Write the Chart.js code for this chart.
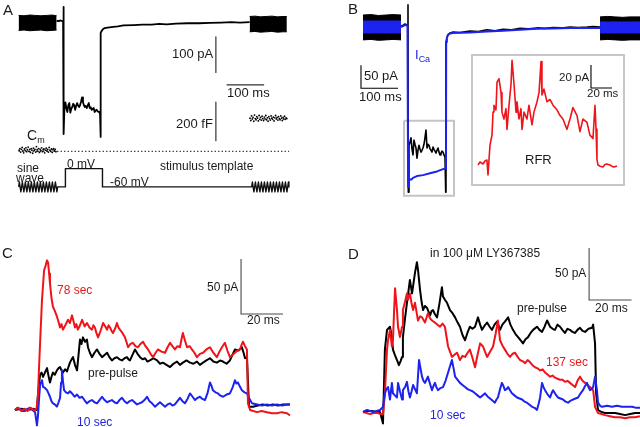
<!DOCTYPE html>
<html>
<head>
<meta charset="utf-8">
<script src="https://cdn.jsdelivr.net/npm/chart.js@4.4.0/dist/chart.umd.min.js"></script>
<style>
  html, body { margin: 0; padding: 0; background: #fff; }
  #fig { position: relative; width: 640px; height: 427px; overflow: hidden;
         font-family: "Liberation Sans", Arial, Helvetica, sans-serif; color: #1a1a1a; }
  .pane { position: absolute; }
  .inset { position: absolute; left: 471px; top: 54px; width: 154px; height: 132px;
           border: 2px solid #c6c6c6; box-sizing: border-box; background: #fff; }
  .lbl { position: absolute; white-space: nowrap; line-height: 1; font-size: 12px; }
  .big { font-size: 15px; }
  .s13 { font-size: 13px; }
  .red { color: #e8191c; }
  .blue { color: #2222d8; }
  .sub { font-size: 9px; position: relative; top: 3px; }
</style>
</head>
<body>
<div id="fig">
  <div class="pane" style="left:0;top:0"><canvas id="chartA" width="320" height="215"></canvas></div>
  <div class="pane" style="left:320px;top:0"><canvas id="chartB" width="320" height="215"></canvas></div>
  <div class="inset"><canvas id="chartRFR" width="150" height="128"></canvas></div>
  <div class="pane" style="left:0;top:230px"><canvas id="chartC" width="320" height="197"></canvas></div>
  <div class="pane" style="left:320px;top:230px"><canvas id="chartD" width="320" height="197"></canvas></div>

  <!-- A -->
  <div class="lbl big" style="left:3px;top:2px">A</div>
  <div class="lbl s13" style="left:172px;top:47px">100 pA</div>
  <div class="lbl s13" style="left:227px;top:86px">100 ms</div>
  <div class="lbl s13" style="left:176px;top:117px">200 fF</div>
  <div class="lbl" style="left:27px;top:128px;font-size:14px">C<span class="sub">m</span></div>
  <div class="lbl" style="left:17px;top:162px">sine</div>
  <div class="lbl" style="left:16px;top:172px">wave</div>
  <div class="lbl" style="left:67px;top:158px">0 mV</div>
  <div class="lbl" style="left:160px;top:160px">stimulus template</div>
  <div class="lbl" style="left:110px;top:176px">-60 mV</div>

  <!-- B -->
  <div class="lbl big" style="left:348px;top:1px">B</div>
  <div class="lbl s13" style="left:364px;top:69px">50 pA</div>
  <div class="lbl s13" style="left:359px;top:90px">100 ms</div>
  <div class="lbl blue" style="left:415px;top:48px;font-size:13px">I<span class="sub">Ca</span></div>
  <div class="lbl" style="left:559px;top:72px;font-size:11.5px">20 pA</div>
  <div class="lbl" style="left:587px;top:88px;font-size:11.5px">20 ms</div>
  <div class="lbl s13" style="left:525px;top:153px">RFR</div>

  <!-- C -->
  <div class="lbl big" style="left:2px;top:245px">C</div>
  <div class="lbl red" style="left:57px;top:284px">78 sec</div>
  <div class="lbl" style="left:207px;top:281px">50 pA</div>
  <div class="lbl" style="left:247px;top:314px">20 ms</div>
  <div class="lbl" style="left:88px;top:367px">pre-pulse</div>
  <div class="lbl blue" style="left:77px;top:416px">10 sec</div>

  <!-- D -->
  <div class="lbl big" style="left:348px;top:246px">D</div>
  <div class="lbl" style="left:430px;top:247px">in 100 μM LY367385</div>
  <div class="lbl" style="left:555px;top:267px">50 pA</div>
  <div class="lbl" style="left:595px;top:302px">20 ms</div>
  <div class="lbl" style="left:517px;top:302px">pre-pulse</div>
  <div class="lbl red" style="left:546px;top:356px">137 sec</div>
  <div class="lbl blue" style="left:430px;top:409px">10 sec</div>
</div>

<script>
// ── Data: [time (ms), value] ──────────────────────────────────
// A: whole-cell current (pA), Cm (fF), stimulus (mV)
const A_CURRENT = [[-18.2,5],[-15,7],[-12,6],[-9,8],[-6,7],[-3,6],[-1,5],[0,46],[0.8,-311],[2.6,-235],[5.2,-222],
  [7.8,-240],[10.4,-249],[13,-230],[15.6,-224],[18.2,-251],[20.8,-240],[23.4,-235],[26,-226],[28.6,-230],[31.2,-243],
  [33.8,-232],[36.4,-224],[39,-231],[41.6,-235],[44.2,-230],[46.8,-220],[49.4,-208],[52,-222],[54.5,-230],[57.1,-235],
  [59.7,-232],[62.3,-238],[64.9,-230],[67.5,-224],[70.1,-238],[72.7,-236],[75.3,-243],[77.9,-240],[80.5,-238],
  [83.1,-249],[85.7,-245],[88.3,-243],[90.9,-247],[93.5,-249],[96.1,-249],[97.4,-255],[98.7,-319],[99.5,-27],
  [101.3,-22],[105,-17],[109,-14],[118,-12],[127,-11],[145,-9],[160,-6],[187,-5],[210,-4],[235,-4],[255,-2],
  [275,-3],[300,-1],[330,0],[361,0],[390,1],[420,2],[447,3],[470,2],[496,3]];
const A_BLOCK_L_HI = [[-119.5,22],[-105,21],[-90,23],[-75,22],[-60,21],[-45,22],[-30,23],[-18.2,21]];
const A_BLOCK_L_LO = [[-119.5,-20],[-105,-19],[-90,-21],[-75,-20],[-60,-19],[-45,-21],[-30,-20],[-18.2,-19]];
const A_BLOCK_R_HI = [[496,19],[510,20],[525,18],[540,19],[555,20],[570,18],[585,19],[595,19]];
const A_BLOCK_R_LO = [[496,-24],[510,-23],[525,-25],[540,-24],[555,-23],[570,-25],[585,-24],[595,-24]];
const A_CM_LEFT = [[-118,6],[-116,14],[-114,-4],[-112,10],[-110,20],[-108,2],[-106,-8],[-104,12],[-102,4],[-100,18],
  [-98,-2],[-96,8],[-94,22],[-92,0],[-90,10],[-88,-6],[-86,14],[-84,6],[-82,-10],[-80,16],[-78,4],[-76,10],[-74,-4],
  [-72,24],[-70,8],[-68,0],[-66,14],[-64,-6],[-62,10],[-60,4],[-58,18],[-56,-2],[-54,8],[-52,12],[-50,-8],[-48,6],
  [-46,16],[-44,2],[-42,10],[-40,-4],[-38,20],[-36,6],[-34,0],[-32,12],[-30,-6],[-28,8],[-26,14],[-24,2],[-22,10],[-20,-2]];
const A_CM_RIGHT = [[497,172],[499,160],[501,184],[503,168],[505,176],[507,156],[509,188],[511,170],[513,164],[515,180],
  [517,172],[519,158],[521,186],[523,166],[525,176],[527,162],[529,182],[531,170],[533,160],[535,178],[537,168],
  [539,186],[541,164],[543,174],[545,156],[547,180],[549,170],[551,162],[553,184],[555,172],[557,166],[559,178],
  [561,158],[563,174],[565,186],[567,168],[569,176],[571,162],[573,180],[575,170],[577,164],[579,184],[581,172],
  [583,160],[585,176],[587,168],[589,182],[591,166],[593,174],[595,170]];
const A_CM_REF = [[-119.5,0],[601,0]];
const A_STIM = [[-119.5,-60],[-117.5,-44],[-113.5,-76],[-109.5,-44],[-105.5,-76],[-101.5,-44],[-97.5,-76],[-93.5,-44],
  [-89.5,-76],[-85.5,-44],[-81.5,-76],[-77.5,-44],[-73.5,-76],[-69.5,-44],[-65.5,-76],[-61.5,-44],[-57.5,-76],
  [-53.5,-44],[-49.5,-76],[-45.5,-44],[-41.5,-76],[-37.5,-44],[-33.5,-76],[-29.5,-44],[-25.5,-76],[-21.5,-44],
  [-17.5,-76],[-15.6,-60],[5.2,-60],[5.2,0],[103.9,0],[103.9,-60],[501.3,-60],[503.3,-44],[507.3,-76],[511.3,-44],
  [515.3,-76],[519.3,-44],[523.3,-76],[527.3,-44],[531.3,-76],[535.3,-44],[539.3,-76],[543.3,-44],[547.3,-76],
  [551.3,-44],[555.3,-76],[559.3,-44],[563.3,-76],[567.3,-44],[571.3,-76],[575.3,-44],[579.3,-76],[583.3,-44],
  [587.3,-76],[591.3,-44],[595.3,-76],[599.3,-44],[600.5,-60]];
const A_BAR_PA = [[406,-38],[406,-138]];
const A_BAR_MS = [[434.5,-173],[534.5,-173]];
const A_BAR_FF = [[406,255],[406,55]];

// B: black = total current, blue = I_Ca (pA)
const B_BLACK = [[-18.9,2],[-15,3],[-11,5],[-8.1,6.5],[-4,5],[-1.4,4],[0,48],[0.8,-359],[2.7,-257],[5.4,-250],
  [8.1,-241],[10.8,-265],[13.5,-278],[16.2,-246],[18.9,-255],[21.6,-263],[24.3,-285],[27,-268],[29.7,-257],
  [32.4,-265],[35.1,-272],[37.8,-268],[40.5,-263],[43.2,-255],[45.9,-241],[48.6,-224],[51.4,-263],[54.1,-255],
  [56.8,-257],[59.5,-265],[62.2,-268],[64.9,-272],[67.6,-261],[70.3,-266],[73,-270],[75.7,-274],[78.4,-268],
  [81.1,-263],[83.8,-272],[86.5,-278],[89.2,-274],[91.9,-270],[94.6,-272],[97.3,-278],[100,-283],[101.9,-359],
  [102.7,-33],[105,-24],[108,-17],[114,-13],[121.6,-11],[140,-12],[167.6,-9],[190,-10],[213.5,-6],[235,-8],
  [256.8,-5],[280,-6],[302.7,-3],[325,-4],[348.6,-2],[370,-3],[391.9,-1],[415,-2],[437.8,0],[460,-1],[483.8,0],
  [500,1],[519,0]];
const B_BLUE = [[-18.9,0],[-8.1,4],[-1.4,4],[0,4],[0.3,-348],[0.8,-322],[2.7,-328],[5.4,-332],[10,-331],[13.5,-328],
  [24.3,-324],[40.5,-322],[59.5,-318],[78.4,-314],[94.6,-309],[102.7,-307],[103.2,-33],[105,-24],[108,-17],[114,-14],
  [121.6,-13],[167.6,-12],[213.5,-10],[256.8,-8],[302.7,-6],[348.6,-4],[391.9,-3],[437.8,-2],[483.8,-2],[519,-2]];
const B_BLOCK_L_HI = [[-121.6,26],[-100,27],[-80,25],[-60,26],[-40,27],[-18.9,26]];
const B_BLOCK_L_LO = [[-121.6,-28],[-100,-27],[-80,-29],[-60,-28],[-40,-27],[-18.9,-28]];
const B_BLUE_L_HI = [[-121.6,13],[-18.9,13]];
const B_BLUE_L_LO = [[-121.6,-13],[-18.9,-13]];
const B_BLOCK_R_HI = [[519,22],[540,23],[560,22],[580,21],[600,22],[627,22]];
const B_BLOCK_R_LO = [[519,-28],[540,-27],[560,-28],[580,-29],[600,-28],[627,-28]];
const B_BLUE_R_HI = [[519,11],[627,11]];
const B_BLUE_R_LO = [[519,-13],[627,-13]];
const B_BOX = [[-10.8,-204],[124.3,-204],[124.3,-367],[-10.8,-367],[-10.8,-204]];
const B_BAR = [[-127,-83],[-127,-133],[-27,-133]];

// B inset: RFR (pA)
const RFR = [[-11.4,0],[-9.5,2.6],[-6.7,0.9],[-4.8,3.5],[-2.9,4.3],[-1.9,-8.7],[0,17.4],[1.9,26],[2.9,46],[3.8,52],
  [5.7,48],[6.7,72],[8.6,75],[10.5,63],[11.4,46],[13.3,40],[15.2,49],[16.2,31],[18.1,52],[20,70],[21,91],[22.9,70],
  [24.8,46],[25.7,55],[27.6,40],[29.5,49],[30.5,31],[32.4,46],[35.2,40],[37.1,52],[40,35],[41.9,46],[44.8,55],
  [46.7,63],[48.6,90],[49.5,61],[51.4,66],[54.3,55],[57.1,57],[60,52],[63.8,48],[66.7,43],[69.5,40],[73.3,31],
  [76.2,40],[79,50],[82.9,43],[85.7,29],[88.6,40],[92.4,37],[95.2,26],[98.1,23],[100,52],[101,31],[101.9,5],
  [102.9,0],[105,-1],[107.6,-1.7],[109.5,0.5],[111.4,0.9],[114.3,0],[116,-1],[118.1,-1.7],[121,-0.9]];
const RFR_BAR = [[96.2,87],[96.2,67],[116.2,67]];

// C: pre-pulse (black), 10 sec (blue), 78 sec (red), pA
const C_RED = [[-11,0],[-9.5,2],[-8,-1],[-6.5,1],[-5,-1],[-3.5,2],[-2,0],[-0.7,1],[0,14],[0.5,39],[1.2,70],[1.9,100],
  [2.9,127],[3.6,131],[4.3,136],[4.8,134],[5.3,124],[5.7,115],[6.4,102],[7.1,94],[8,90],[9,85],[9.8,80],[10.5,75],
  [11.2,78],[11.9,73],[13,77],[14.3,82],[15.2,79],[16.2,86],[17,80],[17.6,75],[18.3,78],[19,73],[20,77],[21,82],
  [22.2,76],[23.3,79],[24.5,75],[25.7,73],[26.4,77],[27.1,75],[27.8,70],[28.6,66],[29.8,72],[31,79],[32,76],
  [32.9,73],[33.6,77],[34.3,75],[35,72],[35.7,70],[36.7,74],[37.6,79],[38.3,75],[39,73],[40.2,70],[41.4,66],
  [42.1,62],[42.9,57],[44,60],[45.2,61],[46.4,58],[47.6,57],[48.8,60],[50,62],[51.2,58],[52.4,55],[53.6,51],
  [54.8,48],[56,52],[57.1,55],[58.8,53],[60.5,52],[61.7,57],[62.9,61],[64,58],[65.2,55],[66.4,58],[67.6,57],
  [68.3,64],[69,70],[70,63],[71,57],[72.2,58],[73.3,55],[74.5,52],[75.7,48],[77.1,51],[78.6,52],[80.2,55],
  [81.9,57],[83.5,52],[85.2,48],[86.4,53],[87.6,57],[88.3,59],[89,61],[90.2,54],[91.4,48],[92.6,50],[93.8,52],
  [95,54],[96.2,55],[96.9,59],[97.6,62],[98.6,58],[99.5,55],[100,6],[101,0],[102.5,-1],[104.3,-2],[106.5,-1],
  [109,-2],[111.5,-3],[113.8,-3],[116,-2],[118.6,-3],[120,-5]];
const C_BLACK = [[-11,0],[-8,1],[-5,0],[-2,1],[-0.5,0],[0,14],[0.6,26],[1,32],[1.7,34],[2.4,30],[3.3,34],[4.3,38],
  [5,31],[5.7,25],[6.4,30],[7.1,34],[8,32],[9,36],[9.8,38],[10.5,39],[11.2,36],[11.9,34],[12.9,37],[13.8,35],
  [14.5,39],[15.2,43],[16,46],[16.7,48],[17.6,41],[18.6,36],[19.3,50],[20,64],[20.7,60],[21.4,66],[22.4,62],
  [23.3,64],[23.8,57],[24.7,52],[25.7,48],[26.9,52],[28.1,55],[29.3,51],[30.5,48],[31.7,50],[32.9,52],[34,48],
  [35.2,45],[36.4,47],[37.6,48],[38.8,46],[40,45],[41.2,47],[42.4,48],[43.1,46],[43.8,45],[45,50],[46.2,55],
  [47.4,51],[48.6,48],[49.8,46],[51,47],[52.1,44],[53.3,45],[55,47],[56.7,45],[58.1,42],[59.5,43],[61.2,41],
  [62.9,39],[64.5,42],[66.2,44],[67.6,41],[69,43],[70.7,45],[72.4,43],[74,42],[75.7,44],[77.1,41],[78.6,43],
  [80.2,45],[81.9,47],[83.5,44],[85.2,43],[86.7,45],[88.1,44],[89.8,42],[91.4,45],[92.6,50],[93.8,55],[95.5,54],
  [97.1,57],[97.9,52],[98.6,47],[99.5,48],[100.5,3],[102.4,3],[104.7,4],[107,5],[109.5,4],[111.9,5],[114.3,4],
  [116.7,5],[120,5]];
const C_BLUE = [[-11,0],[-9.8,2],[-8.6,1],[-7.4,-1],[-6.2,-1],[-5,1],[-3.8,2],[-2.6,0],[-1.4,-2],[-0.5,-14],[0,-5],
  [0.5,10],[1,23],[1.9,27],[2.4,21],[3.3,20],[4.3,18],[5,15],[5.7,12],[6.4,8],[7.1,6],[8,5],[9,3],[9.8,7],[10.5,11],
  [11,25],[11.4,36],[11.9,26],[12.4,18],[13.3,16],[14.3,15],[15.2,17],[16.2,15],[17.4,12],[18.6,14],[19.8,11],
  [21,12],[22.1,9],[23.3,6],[24.5,8],[25.7,9],[26.9,7],[28.1,6],[29.3,9],[30.5,12],[31.7,9],[32.9,7],[34,8],
  [35.2,9],[36.4,7],[37.6,6],[38.8,9],[40,11],[41.2,8],[42.4,6],[43.6,8],[44.8,9],[46,7],[47.1,5],[48.3,6],
  [49.5,7],[50.7,9],[51.9,12],[53.1,8],[54.3,6],[55.7,3],[56.9,5],[58.1,7],[59.3,5],[60.5,3],[61.7,5],[62.9,6],
  [64,4],[65.2,5],[66.4,8],[67.6,11],[68.8,8],[70,6],[71.2,10],[72.4,15],[73.6,12],[74.8,9],[76,11],[77.1,12],
  [78.3,10],[79.5,9],[80.7,15],[81.9,25],[82.6,22],[83.3,18],[84.5,16],[85.7,15],[86.9,13],[88.1,12],[89.8,14],
  [91.4,15],[92.6,20],[93.8,27],[94.5,24],[95.2,25],[96.2,21],[97.1,18],[98.3,16],[99.5,15],[100.5,11],[101.9,6],
  [104.3,5],[106.7,4],[109,5],[111.4,4],[113.8,5],[116.2,4],[118.6,5],[120,5]];
const C_BAR = [[96.7,137.3],[96.7,87.3],[116.7,87.3]];

// D: in LY367385 — pre-pulse (black), 10 sec (blue), 137 sec (red), pA
const D_BLACK = [[-9.4,0],[-7.5,1],[-5.2,1],[-3.3,0],[-1.4,0],[0,-11],[0.4,20],[0.9,60],[1.9,79],[3.3,82],[4.2,72],
  [4.7,60],[5.6,55],[6.6,50],[7.5,45],[8.3,49],[9,53],[9.4,72],[10.4,90],[11.3,105],[12.7,127],[13.7,114],[14.4,124],
  [15.1,134],[16,144],[16.5,137],[17.5,117],[18.2,106],[18.9,98],[19.8,102],[20.8,100],[22.2,93],[22.9,97],[23.6,98],
  [24.5,94],[25.5,91],[26.6,104],[27.8,120],[28.3,111],[29.2,108],[30.2,105],[31.6,98],[32.8,95],[34,91],[35.2,86],
  [36.3,82],[37.5,74],[38.7,69],[39.8,76],[41,82],[42.2,80],[43.4,82],[44.8,91],[45.8,84],[46.7,79],[47.9,83],
  [49.1,86],[50.3,82],[51.4,79],[52.6,84],[53.8,87],[55.2,79],[56.3,84],[57.5,87],[59,91],[60.1,84],[61.3,79],
  [62.5,75],[63.7,72],[64.9,69],[66,66],[67.2,70],[68.4,72],[69.6,76],[70.8,79],[72.6,82],[73.8,79],[75,77],
  [76.2,82],[77.4,88],[78.8,82],[80,80],[81.1,79],[82.3,84],[83.5,82],[84.6,79],[85.8,76],[87,80],[88.2,79],
  [89.4,77],[90.6,76],[91.7,79],[92.9,81],[94.1,78],[95.3,77],[96.9,80],[98.6,81],[99.1,84],[100,66],[100.5,18],
  [101.4,2],[103,0],[104.7,-1],[107,-1],[109.4,-1],[111.8,-2],[114.2,-3],[116.5,-2],[118.9,-1],[121.2,-1]];
const D_RED = [[-9.4,0],[-7.7,-1],[-6.1,-2],[-4.2,-1],[-2.4,-1],[-1,-2],[0,-2],[0.9,18],[1.9,60],[2.4,69],[3.3,79],
  [4.2,63],[4.7,69],[5.2,95],[5.7,119],[6.6,98],[7.1,82],[8,72],[9,82],[9.4,98],[10.4,106],[11.3,114],[11.8,108],
  [12.7,114],[13.5,104],[14.2,98],[15.1,105],[16.5,88],[17.5,92],[18.4,91],[19.8,86],[21.2,95],[22.2,90],[23.1,88],
  [24.5,86],[25.7,84],[26.9,82],[28.1,85],[29.2,82],[30.7,63],[31.6,58],[32.5,53],[33.7,55],[34.9,57],[36.3,50],
  [37.5,54],[38.7,53],[39.9,57],[41,60],[42.2,52],[43.4,43],[44.6,55],[45.8,66],[47.2,63],[48.1,58],[49.1,53],
  [50.5,58],[51.9,63],[53.1,75],[54.2,88],[55.2,69],[56.3,64],[57.5,60],[58.7,56],[59.9,53],[61.1,56],[62.3,57],
  [63.5,53],[64.6,50],[65.8,49],[67,47],[68.2,50],[69.3,48],[70.5,45],[71.7,43],[72.9,42],[74.1,40],[75.3,41],
  [76.4,38],[77.6,36],[78.8,34],[80,35],[81.1,33],[82.3,32],[83.5,31],[84.7,31],[85.8,29],[87,30],[88.2,28],
  [89.4,26],[90.6,24],[91.7,30],[92.9,34],[94.1,30],[95.3,28],[96.5,26],[97.6,24],[99.1,21],[100,5],[101.4,-1],
  [103,-2],[104.7,-3],[107,-4],[109.4,-5],[111.8,-5],[114.2,-6],[116.5,-5],[118.9,-5],[121.2,-4]];
const D_BLUE = [[-9.4,0],[-8.5,1],[-7.5,2],[-6.1,1],[-4.7,0],[-3,1],[-1.4,2],[0,5],[0.9,18],[1.6,22],[2.4,24],
  [3.3,12],[4.2,28],[4.7,18],[5.6,16],[6.6,14],[7.1,28],[8,20],[9,12],[9.4,21],[10.4,24],[11.3,29],[12,20],
  [12.7,14],[13.5,20],[14.2,26],[15.1,22],[16,18],[17,50],[17.7,42],[18.4,34],[19.1,30],[19.8,28],[20.5,31],
  [21.2,34],[22.2,27],[23.1,21],[23.8,25],[24.5,28],[25.2,24],[25.9,21],[27.1,23],[28.3,24],[29.5,30],[30.7,38],
  [31.6,44],[32.5,50],[33.3,42],[34,34],[35.2,31],[36.3,28],[37.5,26],[38.7,24],[39.9,22],[41,21],[42.2,20],
  [43.4,18],[44.6,16],[45.8,14],[47,16],[48.1,18],[49.3,15],[50.5,13],[51.6,11],[52.8,9],[53.5,12],[54.2,14],
  [55.2,22],[56.1,28],[56.8,25],[57.5,21],[58.3,22],[59,24],[59.9,21],[60.8,18],[62,16],[63.2,14],[64.4,13],
  [65.6,12],[66.7,10],[67.9,9],[69.1,7],[70.3,5],[71.5,4],[72.6,2],[73.4,8],[74.1,14],[75,28],[75.7,24],[76.4,21],
  [77.6,17],[78.8,14],[79.5,18],[80.2,21],[81.4,17],[82.5,14],[83.7,13],[84.9,12],[86.1,10],[87.3,9],[88.5,11],
  [89.6,12],[90.8,13],[92,14],[93.2,18],[94.3,21],[95.3,25],[96.2,28],[96.9,24],[97.6,21],[98.4,22],[99.1,24],
  [100,34],[100.9,21],[101.4,9],[102.4,6],[103.3,5],[105.7,6],[108,5],[110.4,6],[112.7,5],[115.1,5],[117.5,5],
  [119.4,4],[121.2,4]];
const D_BAR = [[97.2,157.7],[97.2,107.7],[117.2,107.7]];

// ── Colours ─────────────────────────────────────────────────
const BLACK = '#000000', RED = '#f0141a', BLUE = '#1c22f0', GRAY = '#c4c4c4', BAR = '#4a4a4a';

// ── Helpers ─────────────────────────────────────────────────
const pts = arr => arr.map(([x, y]) => ({ x, y }));

function line(data, color, width, extra) {
  return Object.assign({
    data: pts(data), borderColor: color, backgroundColor: color, borderWidth: width,
    borderJoinStyle: 'round', borderCapStyle: 'butt',
    pointRadius: 0, fill: false, tension: 0, yAxisID: 'y', order: 1,
  }, extra || {});
}

function makeChart(id, xRange, yRanges, datasets) {
  const scales = { x: { type: 'linear', display: false, min: xRange[0], max: xRange[1] } };
  Object.keys(yRanges).forEach(k => {
    scales[k] = { type: 'linear', display: false, min: yRanges[k][0], max: yRanges[k][1] };
  });
  return new Chart(document.getElementById(id), {
    type: 'line',
    data: { datasets },
    options: {
      responsive: false, animation: false, devicePixelRatio: 1, events: [],
      layout: { padding: 0 },
      plugins: { legend: { display: false }, tooltip: { enabled: false } },
      scales,
    },
  });
}

// ── A ───────────────────────────────────────────────────────
makeChart('chartA', [-158.4, 672.7], { y: [-527, 54.05], cm: [-310, 765], mv: [-138.9, 539.4] }, [
  line(A_BLOCK_L_HI, BLACK, 1, { fill: '+1', order: 3 }),
  line(A_BLOCK_L_LO, BLACK, 1, { order: 3 }),
  line(A_BLOCK_R_HI, BLACK, 1, { fill: '+1', order: 3 }),
  line(A_BLOCK_R_LO, BLACK, 1, { order: 3 }),
  line(A_CURRENT, BLACK, 1.8, { order: 2 }),
  line(A_CM_LEFT, BLACK, 0, { yAxisID: 'cm', showLine: false, pointRadius: 0.9, pointBorderWidth: 0 }),
  line(A_CM_RIGHT, BLACK, 0, { yAxisID: 'cm', showLine: false, pointRadius: 0.9, pointBorderWidth: 0 }),
  line(A_CM_REF, '#333', 1.3, { yAxisID: 'cm', borderDash: [1.3, 2.2] }),
  line(A_STIM, '#111', 1.4, { yAxisID: 'mv' }),
  line(A_BAR_PA, '#333', 1.2),
  line(A_BAR_MS, '#333', 1.2),
  line(A_BAR_FF, '#333', 1.2, { yAxisID: 'cm' }),
]);

// ── B ───────────────────────────────────────────────────────
makeChart('chartB', [-237.8, 627], { y: [-408.7, 58.7] }, [
  line(B_BLOCK_L_HI, BLACK, 1, { fill: '+1', order: 6 }),
  line(B_BLOCK_L_LO, BLACK, 1, { order: 6 }),
  line(B_BLOCK_R_HI, BLACK, 1, { fill: '+1', order: 6 }),
  line(B_BLOCK_R_LO, BLACK, 1, { order: 6 }),
  line(B_BLUE_L_HI, BLUE, 1, { fill: '+1', order: 5 }),
  line(B_BLUE_L_LO, BLUE, 1, { order: 5 }),
  line(B_BLUE_R_HI, BLUE, 1, { fill: '+1', order: 5 }),
  line(B_BLUE_R_LO, BLUE, 1, { order: 5 }),
  line(B_BOX, GRAY, 2, { order: 7, borderJoinStyle: 'miter' }),
  line(B_BLACK, BLACK, 1.6, { order: 4 }),
  line(B_BLUE, BLUE, 2, { order: 3 }),
  line(B_BAR, BLACK, 1.1, { order: 1, borderJoinStyle: 'miter' }),
]);

makeChart('chartRFR', [-16.19, 126.7], { y: [-16.5, 94.8] }, [
  line(RFR, RED, 1.6, { order: 2 }),
  line(RFR_BAR, BLACK, 1.1, { order: 1, borderJoinStyle: 'miter' }),
]);

// ── C ───────────────────────────────────────────────────────
makeChart('chartC', [-18.1, 134.3], { y: [-15.5, 163.6] }, [
  line(C_BLACK, BLACK, 2, { order: 3 }),
  line(C_BLUE, BLUE, 2, { order: 2 }),
  line(C_RED, RED, 2, { order: 1 }),
  line(C_BAR, BAR, 1.1, { order: 0, borderJoinStyle: 'miter' }),
]);

// ── D ───────────────────────────────────────────────────────
makeChart('chartD', [-29.7, 121.2], { y: [-14.4, 175] }, [
  line(D_BLACK, BLACK, 2, { order: 3 }),
  line(D_RED, RED, 2, { order: 2 }),
  line(D_BLUE, BLUE, 2, { order: 1 }),
  line(D_BAR, BAR, 1.1, { order: 0, borderJoinStyle: 'miter' }),
]);
</script>
</body>
</html>
